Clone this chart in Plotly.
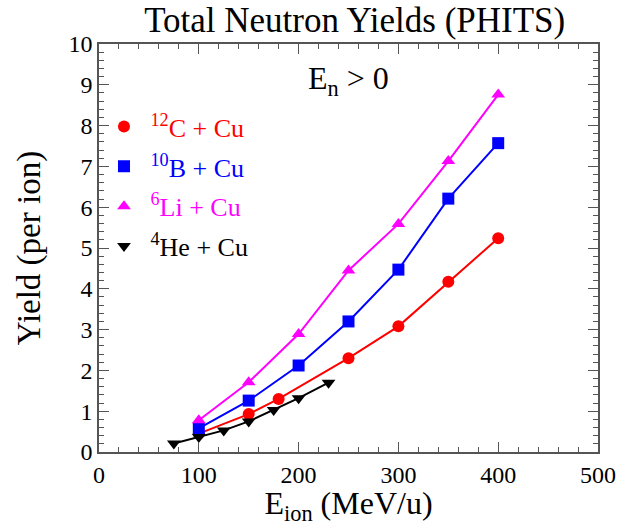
import plotly.graph_objects as go

# Beam energies (MeV/u) and total neutron yields per ion
e_c12 = [100, 150, 180, 250, 300, 350, 400]
y_c12 = [0.45, 0.93, 1.30, 2.30, 3.08, 4.17, 5.24]

e_b10 = [100, 150, 200, 250, 300, 350, 400]
y_b10 = [0.58, 1.26, 2.12, 3.20, 4.47, 6.21, 7.57]

e_li6 = [100, 150, 200, 250, 300, 350, 400]
y_li6 = [0.78, 1.71, 2.89, 4.45, 5.59, 7.13, 8.76]

e_he4 = [75, 100, 125, 150, 175, 200, 230]
y_he4 = [0.21, 0.37, 0.53, 0.75, 1.03, 1.32, 1.70]

series = [
    ("<sup>12</sup>C + Cu", e_c12, y_c12, "#ff0000", "circle"),
    ("<sup>10</sup>B + Cu", e_b10, y_b10, "#0000ff", "square"),
    ("<sup>6</sup>Li + Cu", e_li6, y_li6, "#ff00ff", "triangle-up"),
    ("<sup>4</sup>He + Cu", e_he4, y_he4, "#000000", "triangle-down"),
]

FONT = "Liberation Serif"
fig = go.Figure()

for i, (name, xs, ys, color, sym) in enumerate(series):
    fig.add_trace(go.Scatter(
        x=xs, y=ys, mode="lines+markers",
        line=dict(color=color, width=2),
        marker=dict(symbol=sym, size=12, color=color),
        showlegend=False, cliponaxis=False,
    ))
    # marker-only legend entry, label coloured like its series
    fig.add_trace(go.Scatter(
        x=[None], y=[None], mode="markers",
        marker=dict(symbol=sym, size=12, color=color),
        name=f'<span style="color:{color}">\u00a0{name}</span>',
        legendgroup=f"g{i}", showlegend=True,
    ))

axis_common = dict(
    showline=True, linecolor="#555555", linewidth=1.5, mirror="allticks",
    ticks="inside", ticklen=10, tickwidth=1.2, tickcolor="#555555",
    showgrid=False, zeroline=False, ticklabeloverflow="allow", automargin=False,
    tickfont=dict(family=FONT, size=24, color="black"),
)

fig.update_layout(
    width=619, height=526,
    margin=dict(l=99, r=21, t=44, b=74),
    paper_bgcolor="white", plot_bgcolor="white",
    font=dict(family=FONT, color="black"),
    title=dict(text="Total Neutron Yields (PHITS)", x=0.573, xanchor="center",
               y=0.962, yanchor="middle", font=dict(family=FONT, size=35)),
    xaxis=dict(range=[0, 500], dtick=100,
               minor=dict(dtick=20, ticks="inside", ticklen=5, tickcolor="#555555"),
               title=dict(text="E<sub>ion</sub> (MeV/u)", font=dict(family=FONT, size=32),
                          standoff=4),
               **axis_common),
    yaxis=dict(range=[0, 10], dtick=1,
               minor=dict(dtick=0.2, ticks="inside", ticklen=5, tickcolor="#555555"),
               title=dict(text="Yield (per ion)", font=dict(family=FONT, size=33),
                          standoff=18),
               **axis_common),
    legend=dict(x=0.01, y=0.855, xanchor="left", yanchor="top",
                font=dict(family=FONT, size=26), bgcolor="rgba(0,0,0,0)",
                tracegroupgap=3, itemwidth=30),
    annotations=[dict(text="E<sub>n</sub> > 0", x=0.5, y=0.966, xref="paper", yref="paper",
                      showarrow=False, font=dict(family=FONT, size=32, color="black"))],
)

fig.write_html("out.html")
